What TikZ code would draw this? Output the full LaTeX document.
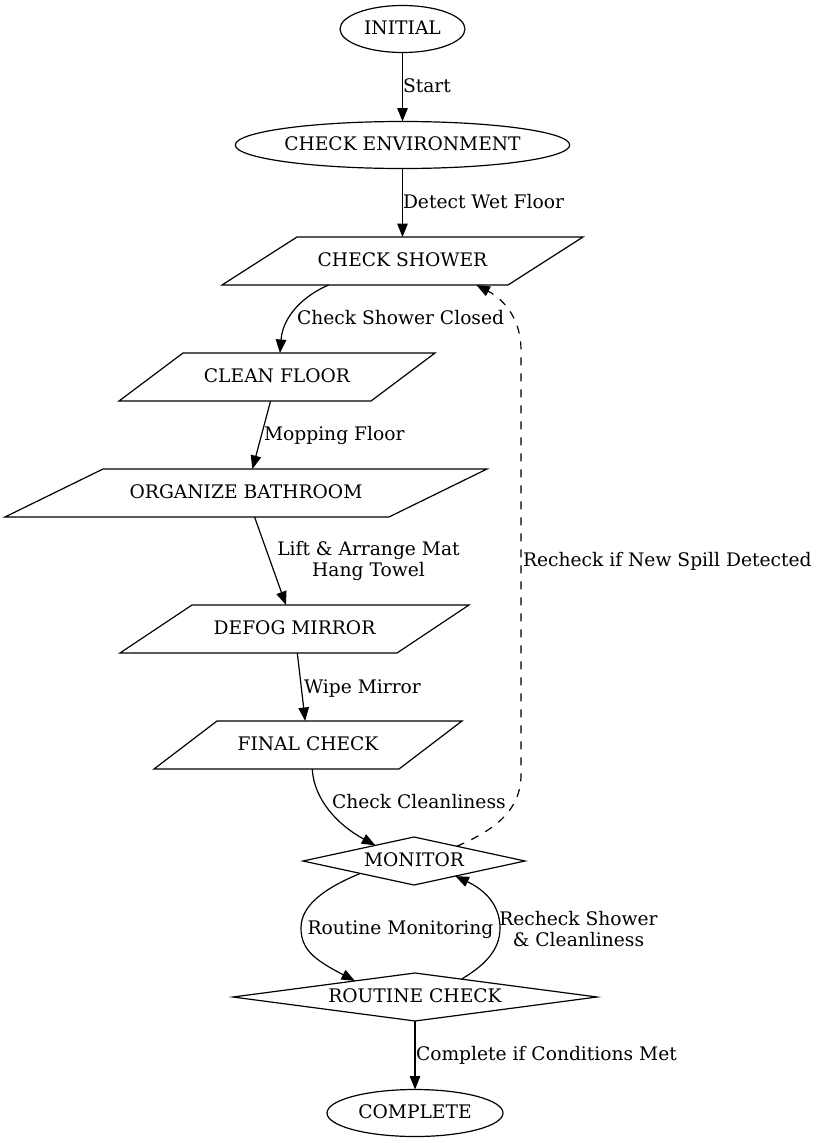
\documentclass[tikz,border=0pt]{standalone}
\usepackage{fontspec}
\setmainfont{DejaVu Serif}
\usetikzlibrary{shapes.geometric,arrows.meta}
\newcommand\drawpara[2]{\draw[line width=1.2pt, line join=miter] (#1.south west) -- ([xshift=-#2]#1.south east) -- (#1.north east) -- ([xshift=#2]#1.north west) -- cycle;}
\begin{document}
\begin{tikzpicture}[x=1pt,y=-1pt,
  every node/.style={font=\fontsize{18.67}{21}\selectfont, inner sep=0pt, outer sep=0pt},
  base/.style={draw, line width=1.2pt, text height=14.5pt, text depth=3.5pt},
  oval/.style={base, ellipse, minimum height=47pt},
  pbox/.style={rectangle, text height=14.5pt, text depth=3.5pt, minimum height=48pt},
  dia/.style={base, diamond, minimum height=48pt},
  edge/.style={line width=1.2pt, -{Triangle[length=13.5pt,width=10.5pt]}},
  lab/.style={text height=15.5pt, text depth=2.5pt},
  elabel/.style={lab, anchor=west}
]
\useasboundingbox (0,0) rectangle (817,1143);

% nodes
\node[oval, minimum width=125pt] (init) at (402.5,29) {INITIAL};
\node[oval, minimum width=333pt] (env) at (402.5,145) {CHECK ENVIRONMENT};
\node[pbox, minimum width=361pt] (cs) at (402.5,261) {CHECK SHOWER};
\node[pbox, minimum width=316pt] (cf) at (277,377) {CLEAN FLOOR};
\node[pbox, minimum width=482pt] (ob) at (246,493) {ORGANIZE BATHROOM};
\node[pbox, minimum width=349pt] (dm) at (294.5,629) {DEFOG MIRROR};
\node[pbox, minimum width=308pt] (fc) at (308,745) {FINAL CHECK};
\node[dia, minimum width=222pt, aspect=4.6] (mon) at (414,861) {MONITOR};
\node[dia, minimum width=364pt, aspect=7.6] (rc) at (415,997) {ROUTINE CHECK};
\node[oval, minimum width=176pt] (done) at (415,1113) {COMPLETE};

\drawpara{cs}{75pt}
\drawpara{cf}{64pt}
\drawpara{ob}{98pt}
\drawpara{dm}{72pt}
\drawpara{fc}{63pt}

% edges
\draw[edge] (init) -- (env);
\draw[edge] (env) -- (cs);
\draw[edge] (cs.198) .. controls (305,295) and (283,315) .. (cf.83);
\draw[edge] (cf) -- (ob);
\draw[edge] (ob) -- (dm);
\draw[edge] (dm) -- (fc);
\draw[edge] (fc.280) .. controls (314,800) and (338,825) .. (mon.158);
\draw[edge, dash pattern=on 8pt off 8pt] (mon.19) .. controls (495,830) and (521,810) .. (521,775)
  -- (521,350) .. controls (521,320) and (505,300) .. (cs.342);
\draw[edge] (mon.193) .. controls (325,888) and (301,905) .. (301,928)
  .. controls (301,950) and (315,960) .. (rc.165);
\draw[edge] (rc.21) .. controls (485,965) and (500,950) .. (500,928)
  .. controls (500,905) and (485,890) .. (mon.340);
\draw[edge] (rc) -- (done);

% labels
\node[elabel] (l1) at (403,86) {Start};
\node[elabel] (l2) at (403,202) {Detect Wet Floor};
\node[elabel] (l3) at (297,318) {Check Shower Closed};
\node[elabel] (l4) at (264,434) {Mopping Floor};
\node[align=center] (l5) at (368.5,561) {Lift \& Arrange Mat\\Hang Towel};
\node[elabel] (l6) at (304,687) {Wipe Mirror};
\node[elabel] (l7) at (332,802) {Check Cleanliness};
\node[elabel] (l8) at (523,560) {Recheck if New Spill Detected};
\node[lab] (l9) at (400.5,928) {Routine Monitoring};
\node[align=center] (l10) at (578.5,929) {Recheck Shower\\\& Cleanliness};
\node[elabel] (l11) at (416,1054) {Complete if Conditions Met};
\end{tikzpicture}
\end{document}
